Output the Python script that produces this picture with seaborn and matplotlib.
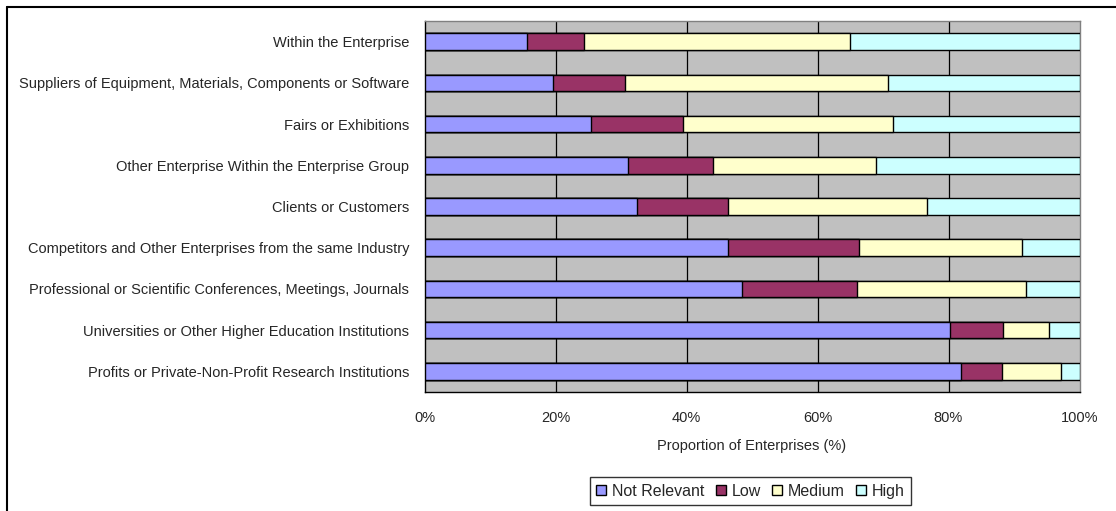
import matplotlib
matplotlib.use("Agg")
import matplotlib.pyplot as plt
from matplotlib.patches import Patch
from matplotlib.lines import Line2D
import seaborn as sns
import pandas as pd
import numpy as np

sources = [
    "Within the Enterprise",
    "Suppliers of Equipment, Materials, Components or Software",
    "Fairs or Exhibitions",
    "Other Enterprise Within the Enterprise Group",
    "Clients or Customers",
    "Competitors and Other Enterprises from the same Industry",
    "Professional or Scientific Conferences, Meetings, Journals",
    "Universities or Other Higher Education Institutions",
    "Profits or Private-Non-Profit Research Institutions",
]
not_relevant = [15.6, 19.6, 25.4, 31.0, 32.5, 46.4, 48.5, 80.2, 81.9]
low = [8.8, 11.0, 14.0, 13.1, 13.9, 19.9, 17.6, 8.1, 6.2]
medium = [40.5, 40.1, 32.1, 24.9, 30.3, 24.9, 25.7, 7.0, 9.1]
high = [35.1, 29.3, 28.5, 31.0, 23.3, 8.8, 8.2, 4.7, 2.8]

levels = ["Not Relevant", "Low", "Medium", "High"]
colors = ["#9999FF", "#993366", "#FFFFCC", "#CCFFFF"]

sns.set_theme(style="white")
plt.rcParams["font.family"] = ["Liberation Sans", "DejaVu Sans"]
FS = 10.5
plt.rcParams["font.size"] = FS

df = pd.DataFrame({"source": sources, "Not Relevant": not_relevant,
                   "Low": low, "Medium": medium, "High": high})
cum = df[levels].cumsum(axis=1)

fig = plt.figure(figsize=(11.16, 5.11), dpi=100)
ax = fig.add_axes([424.5 / 1116, 1 - 392 / 511, 655 / 1116, 371 / 511])
ax.set_facecolor("#C0C0C0")

# stacked bars: draw cumulative totals from the outermost level inwards
for lvl, col in reversed(list(zip(levels, colors))):
    sns.barplot(x=cum[lvl], y=df["source"], orient="h", color=col,
                width=0.4, edgecolor="black", linewidth=1.0,
                saturation=1, ax=ax, zorder=3)

ax.set_xlim(0, 100)
ax.set_ylim(len(sources) - 0.5, -0.5)
ax.set_xticks(np.arange(0, 101, 20))
ax.set_xticklabels([f"{v}%" for v in range(0, 101, 20)])
for v in range(20, 100, 20):
    ax.axvline(v, color="black", linewidth=0.9, zorder=1)

ax.set_yticks(range(len(sources)))
ax.set_yticklabels(sources)
ax.set_yticks(np.arange(-0.5, len(sources), 1.0), minor=True)
ax.tick_params(axis="y", which="major", length=0, pad=11, labelsize=FS)
ax.tick_params(axis="y", which="minor", length=5, width=1, color="black",
               direction="out")
ax.tick_params(axis="x", which="major", length=5, width=1, color="black",
               direction="out", pad=9, labelsize=FS)

ax.set_xlabel("Proportion of Enterprises (%)", fontsize=FS, labelpad=10)
ax.set_ylabel("")

for side in ["left", "bottom"]:
    ax.spines[side].set_color("black")
    ax.spines[side].set_linewidth(1.0)
for side in ["top", "right"]:
    ax.spines[side].set_visible(True)
    ax.spines[side].set_color("#808080")
    ax.spines[side].set_linewidth(1.0)

handles = [Patch(facecolor=c, edgecolor="black", linewidth=1.0, label=l)
           for l, c in zip(levels, colors)]
leg = fig.legend(handles=handles, loc="center", bbox_to_anchor=(750.5 / 1116, 1 - 491 / 511),
                 ncol=4, frameon=True, fontsize=11.5, handlelength=0.65,
                 handleheight=0.65, handletextpad=0.35, columnspacing=0.7,
                 borderpad=0.4, fancybox=False)
leg.get_frame().set_edgecolor("black")
leg.get_frame().set_linewidth(1.0)

# chart-area border (left and top edges)
fig.add_artist(Line2D([6.5 / 1116, 6.5 / 1116], [0, 1 - 7.5 / 511],
                      transform=fig.transFigure, color="black", linewidth=1.5))
fig.add_artist(Line2D([6.5 / 1116, 1], [1 - 7.5 / 511, 1 - 7.5 / 511],
                      transform=fig.transFigure, color="black", linewidth=1.5))

fig.savefig("out.png", dpi=100)
